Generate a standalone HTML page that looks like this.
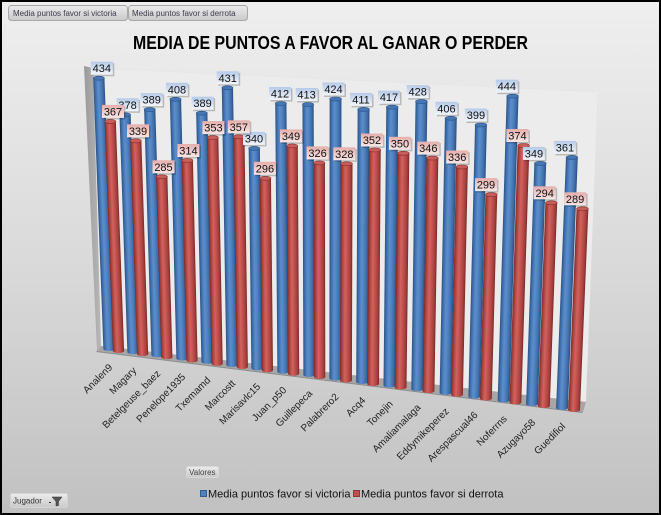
<!DOCTYPE html>
<html><head><meta charset="utf-8"><style>
html,body{margin:0;padding:0;background:#fff}
svg{display:block}
text{font-family:"Liberation Sans",Arial,sans-serif}
.B{fill:url(#gb)}.Bt{fill:#4676b3;stroke:#2c568c;stroke-width:.6}
.R{fill:url(#gr)}.Rt{fill:#c65e5b;stroke:#8c302d;stroke-width:.6}
.lb rect.s,.lr rect.s{fill:#000;opacity:.22}
.lb rect.f{fill:url(#lgb)}.lr rect.f{fill:url(#lgr)}
.lb text,.lr text{font-size:11px;fill:#111;text-anchor:middle}
.cat{font-size:10px;fill:#222;text-anchor:end}
</style></head><body>
<svg width="661" height="515" viewBox="0 0 661 515" xmlns="http://www.w3.org/2000/svg">
<defs>
<linearGradient id="bg" x1="0" y1="0" x2="0" y2="1"><stop offset="0" stop-color="#efefef"/><stop offset=".5" stop-color="#dadada"/><stop offset="1" stop-color="#c1c1c1"/></linearGradient>
<linearGradient id="gb" x1="0" y1="0" x2="1" y2="0"><stop offset="0" stop-color="#2a5182"/><stop offset=".15" stop-color="#3e6eab"/><stop offset=".4" stop-color="#5c8ecd"/><stop offset=".62" stop-color="#4f81bd"/><stop offset=".85" stop-color="#3b69a3"/><stop offset="1" stop-color="#284e7e"/></linearGradient>
<linearGradient id="gr" x1="0" y1="0" x2="1" y2="0"><stop offset="0" stop-color="#7c2a28"/><stop offset=".15" stop-color="#a7433f"/><stop offset=".4" stop-color="#d2625e"/><stop offset=".62" stop-color="#c0504d"/><stop offset=".85" stop-color="#a13f3c"/><stop offset="1" stop-color="#782826"/></linearGradient>
<linearGradient id="lgb" x1="0" y1="0" x2="0" y2="1"><stop offset="0" stop-color="#b5cae8"/><stop offset="1" stop-color="#f3f6fb"/></linearGradient>
<linearGradient id="lgr" x1="0" y1="0" x2="0" y2="1"><stop offset="0" stop-color="#e5aeac"/><stop offset="1" stop-color="#f8e6e5"/></linearGradient>
<linearGradient id="btn" x1="0" y1="0" x2="0" y2="1"><stop offset="0" stop-color="#ececec"/><stop offset="1" stop-color="#c9c9c9"/></linearGradient>
<linearGradient id="side" x1="0" y1="0" x2="1" y2="0"><stop offset="0" stop-color="#9a9a9a"/><stop offset="1" stop-color="#b8b8b8"/></linearGradient>
</defs>
<rect x="0" y="0" width="661" height="515" fill="url(#bg)"/>
<!-- top filter buttons -->
<rect x="8.5" y="5.5" width="119" height="15" rx="3" fill="url(#btn)" stroke="#a9a9a9"/>
<text x="13" y="16" font-size="8" fill="#3c3c50">Media puntos favor si victoria</text>
<rect x="128.5" y="5.5" width="119" height="15" rx="3" fill="url(#btn)" stroke="#a9a9a9"/>
<text x="132" y="16" font-size="8" fill="#3c3c50">Media puntos favor si derrota</text>
<!-- title -->
<text x="330.5" y="49" font-size="18" font-weight="bold" fill="#000" text-anchor="middle" textLength="395" lengthAdjust="spacingAndGlyphs">MEDIA DE PUNTOS A FAVOR AL GANAR O PERDER</text>
<!-- walls & floor -->
<polygon points="93,68 598,92 586,402 101,346" fill="#ececec" stroke="#d4d4d4" stroke-width=".6" stroke-dasharray="1,3"/>
<polygon points="84,66 93,68 101,346 97,351" fill="url(#side)"/>
<polygon points="101,346 586,402 583,412 97,351" fill="#a6a6a6"/>
<polygon points="97,351 583,412 582,413 96,352" fill="#8d8d8d"/>
<!-- bars -->
<g transform="translate(109,349) skewX(2.15)"><rect class="B" x="-5.6" y="-270.8" width="11.2" height="270.8"/><ellipse class="B" rx="5.6" ry="2"/><ellipse class="Bt" cy="-270.8" rx="5.6" ry="2"/></g>
<g transform="translate(118.5,351) skewX(2.06)"><rect class="R" x="-5.6" y="-229.6" width="11.2" height="229.6"/><ellipse class="R" rx="5.6" ry="2"/><ellipse class="Rt" cy="-229.6" rx="5.6" ry="2"/></g>
<g transform="translate(133,352.1) skewX(1.92)"><rect class="B" x="-5.6" y="-237.3" width="11.2" height="237.3"/><ellipse class="B" rx="5.6" ry="2"/><ellipse class="Bt" cy="-237.3" rx="5.6" ry="2"/></g>
<g transform="translate(142.6,354.1) skewX(1.83)"><rect class="R" x="-5.6" y="-213.3" width="11.2" height="213.3"/><ellipse class="R" rx="5.6" ry="2"/><ellipse class="Rt" cy="-213.3" rx="5.6" ry="2"/></g>
<g transform="translate(157,355.2) skewX(1.69)"><rect class="B" x="-5.6" y="-245.6" width="11.2" height="245.6"/><ellipse class="B" rx="5.6" ry="2"/><ellipse class="Bt" cy="-245.6" rx="5.6" ry="2"/></g>
<g transform="translate(166.8,357.2) skewX(1.59)"><rect class="R" x="-5.6" y="-180.4" width="11.2" height="180.4"/><ellipse class="R" rx="5.6" ry="2"/><ellipse class="Rt" cy="-180.4" rx="5.6" ry="2"/></g>
<g transform="translate(182,358.5) skewX(1.44)"><rect class="B" x="-5.6" y="-259.2" width="11.2" height="259.2"/><ellipse class="B" rx="5.6" ry="2"/><ellipse class="Bt" cy="-259.2" rx="5.6" ry="2"/></g>
<g transform="translate(192,360.5) skewX(1.34)"><rect class="R" x="-5.6" y="-200" width="11.2" height="200"/><ellipse class="R" rx="5.6" ry="2"/><ellipse class="Rt" cy="-200" rx="5.6" ry="2"/></g>
<g transform="translate(207,361.8) skewX(1.20)"><rect class="B" x="-5.6" y="-248.6" width="11.2" height="248.6"/><ellipse class="B" rx="5.6" ry="2"/><ellipse class="Bt" cy="-248.6" rx="5.6" ry="2"/></g>
<g transform="translate(217.1,363.8) skewX(1.10)"><rect class="R" x="-5.6" y="-226.2" width="11.2" height="226.2"/><ellipse class="R" rx="5.6" ry="2"/><ellipse class="Rt" cy="-226.2" rx="5.6" ry="2"/></g>
<g transform="translate(232,365) skewX(0.95)"><rect class="B" x="-5.6" y="-277.2" width="11.2" height="277.2"/><ellipse class="B" rx="5.6" ry="2"/><ellipse class="Bt" cy="-277.2" rx="5.6" ry="2"/></g>
<g transform="translate(242.3,367) skewX(0.85)"><rect class="R" x="-5.6" y="-230.2" width="11.2" height="230.2"/><ellipse class="R" rx="5.6" ry="2"/><ellipse class="Rt" cy="-230.2" rx="5.6" ry="2"/></g>
<g transform="translate(257,368.3) skewX(0.71)"><rect class="B" x="-5.6" y="-219.9" width="11.2" height="219.9"/><ellipse class="B" rx="5.6" ry="2"/><ellipse class="Bt" cy="-219.9" rx="5.6" ry="2"/></g>
<g transform="translate(267.4,370.3) skewX(0.61)"><rect class="R" x="-5.6" y="-192" width="11.2" height="192"/><ellipse class="R" rx="5.6" ry="2"/><ellipse class="Rt" cy="-192" rx="5.6" ry="2"/></g>
<g transform="translate(283,371.7) skewX(0.46)"><rect class="B" x="-5.6" y="-268.2" width="11.2" height="268.2"/><ellipse class="B" rx="5.6" ry="2"/><ellipse class="Bt" cy="-268.2" rx="5.6" ry="2"/></g>
<g transform="translate(293.6,373.7) skewX(0.36)"><rect class="R" x="-5.6" y="-227.8" width="11.2" height="227.8"/><ellipse class="R" rx="5.6" ry="2"/><ellipse class="Rt" cy="-227.8" rx="5.6" ry="2"/></g>
<g transform="translate(309,375) skewX(0.20)"><rect class="B" x="-5.6" y="-270.5" width="11.2" height="270.5"/><ellipse class="B" rx="5.6" ry="2"/><ellipse class="Bt" cy="-270.5" rx="5.6" ry="2"/></g>
<g transform="translate(319.7,377) skewX(0.10)"><rect class="R" x="-5.6" y="-214.1" width="11.2" height="214.1"/><ellipse class="R" rx="5.6" ry="2"/><ellipse class="Rt" cy="-214.1" rx="5.6" ry="2"/></g>
<g transform="translate(335.3,378.5) skewX(-0.05)"><rect class="B" x="-5.9" y="-279.5" width="11.8" height="279.5"/><ellipse class="B" rx="5.9" ry="2"/><ellipse class="Bt" cy="-279.5" rx="5.9" ry="2"/></g>
<g transform="translate(346,380.5) skewX(-0.16)"><rect class="R" x="-5.9" y="-216.7" width="11.8" height="216.7"/><ellipse class="R" rx="5.9" ry="2"/><ellipse class="Rt" cy="-216.7" rx="5.9" ry="2"/></g>
<g transform="translate(362.1,382) skewX(-0.31)"><rect class="B" x="-5.9" y="-272.6" width="11.8" height="272.6"/><ellipse class="B" rx="5.9" ry="2"/><ellipse class="Bt" cy="-272.6" rx="5.9" ry="2"/></g>
<g transform="translate(373.1,384) skewX(-0.42)"><rect class="R" x="-5.9" y="-234" width="11.8" height="234"/><ellipse class="R" rx="5.9" ry="2"/><ellipse class="Rt" cy="-234" rx="5.9" ry="2"/></g>
<g transform="translate(389.4,385.5) skewX(-0.58)"><rect class="B" x="-5.9" y="-278.3" width="11.8" height="278.3"/><ellipse class="B" rx="5.9" ry="2"/><ellipse class="Bt" cy="-278.3" rx="5.9" ry="2"/></g>
<g transform="translate(400.6,387.5) skewX(-0.69)"><rect class="R" x="-5.9" y="-234.2" width="11.8" height="234.2"/><ellipse class="R" rx="5.9" ry="2"/><ellipse class="Rt" cy="-234.2" rx="5.9" ry="2"/></g>
<g transform="translate(417.2,389.1) skewX(-0.85)"><rect class="B" x="-5.9" y="-287.5" width="11.8" height="287.5"/><ellipse class="B" rx="5.9" ry="2"/><ellipse class="Bt" cy="-287.5" rx="5.9" ry="2"/></g>
<g transform="translate(428.5,391.1) skewX(-0.96)"><rect class="R" x="-5.9" y="-233" width="11.8" height="233"/><ellipse class="R" rx="5.9" ry="2"/><ellipse class="Rt" cy="-233" rx="5.9" ry="2"/></g>
<g transform="translate(445.5,392.8) skewX(-1.12)"><rect class="B" x="-5.9" y="-274.5" width="11.8" height="274.5"/><ellipse class="B" rx="5.9" ry="2"/><ellipse class="Bt" cy="-274.5" rx="5.9" ry="2"/></g>
<g transform="translate(457,394.8) skewX(-1.24)"><rect class="R" x="-5.9" y="-227.8" width="11.8" height="227.8"/><ellipse class="R" rx="5.9" ry="2"/><ellipse class="Rt" cy="-227.8" rx="5.9" ry="2"/></g>
<g transform="translate(474.3,396.6) skewX(-1.40)"><rect class="B" x="-5.9" y="-271.6" width="11.8" height="271.6"/><ellipse class="B" rx="5.9" ry="2"/><ellipse class="Bt" cy="-271.6" rx="5.9" ry="2"/></g>
<g transform="translate(485.9,398.6) skewX(-1.52)"><rect class="R" x="-5.9" y="-204" width="11.8" height="204"/><ellipse class="R" rx="5.9" ry="2"/><ellipse class="Rt" cy="-204" rx="5.9" ry="2"/></g>
<g transform="translate(503.6,400.4) skewX(-1.69)"><rect class="B" x="-5.9" y="-304.2" width="11.8" height="304.2"/><ellipse class="B" rx="5.9" ry="2"/><ellipse class="Bt" cy="-304.2" rx="5.9" ry="2"/></g>
<g transform="translate(515.4,402.4) skewX(-1.81)"><rect class="R" x="-5.9" y="-256.9" width="11.8" height="256.9"/><ellipse class="R" rx="5.9" ry="2"/><ellipse class="Rt" cy="-256.9" rx="5.9" ry="2"/></g>
<g transform="translate(532,404.1) skewX(-1.97)"><rect class="B" x="-5.9" y="-240.7" width="11.8" height="240.7"/><ellipse class="B" rx="5.9" ry="2"/><ellipse class="Bt" cy="-240.7" rx="5.9" ry="2"/></g>
<g transform="translate(543.9,406.1) skewX(-2.08)"><rect class="R" x="-5.9" y="-203.3" width="11.8" height="203.3"/><ellipse class="R" rx="5.9" ry="2"/><ellipse class="Rt" cy="-203.3" rx="5.9" ry="2"/></g>
<g transform="translate(562,408) skewX(-2.26)"><rect class="B" x="-5.9" y="-250.6" width="11.8" height="250.6"/><ellipse class="B" rx="5.9" ry="2"/><ellipse class="Bt" cy="-250.6" rx="5.9" ry="2"/></g>
<g transform="translate(574.1,410) skewX(-2.38)"><rect class="R" x="-5.9" y="-201.2" width="11.8" height="201.2"/><ellipse class="R" rx="5.9" ry="2"/><ellipse class="Rt" cy="-201.2" rx="5.9" ry="2"/></g>
<!-- blue labels -->
<g class="lb">
<rect class="s" x="92.3" y="63.2" width="22" height="13"/><rect class="f" x="90.8" y="61.7" width="22" height="13"/><text x="101.8" y="72.2">434</text>
<rect class="s" x="118.1" y="99.8" width="22" height="13"/><rect class="f" x="116.6" y="98.3" width="22" height="13"/><text x="127.6" y="108.8">378</text>
<rect class="s" x="142.2" y="94.6" width="22" height="13"/><rect class="f" x="140.7" y="93.1" width="22" height="13"/><text x="151.7" y="103.6">389</text>
<rect class="s" x="167.4" y="84.3" width="22" height="13"/><rect class="f" x="165.9" y="82.8" width="22" height="13"/><text x="176.9" y="93.3">408</text>
<rect class="s" x="193.1" y="98.2" width="22" height="13"/><rect class="f" x="191.6" y="96.7" width="22" height="13"/><text x="202.6" y="107.2">389</text>
<rect class="s" x="218.2" y="72.8" width="22" height="13"/><rect class="f" x="216.7" y="71.3" width="22" height="13"/><text x="227.7" y="81.8">431</text>
<rect class="s" x="244.5" y="133.4" width="22" height="13"/><rect class="f" x="243" y="131.9" width="22" height="13"/><text x="254" y="142.4">340</text>
<rect class="s" x="270.5" y="88.5" width="22" height="13"/><rect class="f" x="269" y="87" width="22" height="13"/><text x="280" y="97.5">412</text>
<rect class="s" x="297.1" y="89.5" width="22" height="13"/><rect class="f" x="295.6" y="88" width="22" height="13"/><text x="306.6" y="98.5">413</text>
<rect class="s" x="324" y="84" width="22" height="13"/><rect class="f" x="322.5" y="82.5" width="22" height="13"/><text x="333.5" y="93">424</text>
<rect class="s" x="351.5" y="94.4" width="22" height="13"/><rect class="f" x="350" y="92.9" width="22" height="13"/><text x="361" y="103.4">411</text>
<rect class="s" x="379.5" y="92.2" width="22" height="13"/><rect class="f" x="378" y="90.7" width="22" height="13"/><text x="389" y="101.2">417</text>
<rect class="s" x="408.2" y="86.6" width="22" height="13"/><rect class="f" x="406.7" y="85.1" width="22" height="13"/><text x="417.7" y="95.6">428</text>
<rect class="s" x="436.9" y="103.3" width="22" height="13"/><rect class="f" x="435.4" y="101.8" width="22" height="13"/><text x="446.4" y="112.3">406</text>
<rect class="s" x="466.4" y="110" width="22" height="13"/><rect class="f" x="464.9" y="108.5" width="22" height="13"/><text x="475.9" y="119">399</text>
<rect class="s" x="497.3" y="81.2" width="22" height="13"/><rect class="f" x="495.8" y="79.7" width="22" height="13"/><text x="506.8" y="90.2">444</text>
<rect class="s" x="524.4" y="148.4" width="22" height="13"/><rect class="f" x="522.9" y="146.9" width="22" height="13"/><text x="533.9" y="157.4">349</text>
<rect class="s" x="555.4" y="142.4" width="22" height="13"/><rect class="f" x="553.9" y="140.9" width="22" height="13"/><text x="564.9" y="151.4">361</text>
</g>
<!-- red labels -->
<g class="lr">
<rect class="s" x="103.5" y="106.4" width="22" height="13"/><rect class="f" x="102" y="104.9" width="22" height="13"/><text x="113" y="115.4">367</text>
<rect class="s" x="128.5" y="125.8" width="22" height="13"/><rect class="f" x="127" y="124.3" width="22" height="13"/><text x="138" y="134.8">339</text>
<rect class="s" x="154" y="161.8" width="22" height="13"/><rect class="f" x="152.5" y="160.3" width="22" height="13"/><text x="163.5" y="170.8">285</text>
<rect class="s" x="178.9" y="145.5" width="22" height="13"/><rect class="f" x="177.4" y="144" width="22" height="13"/><text x="188.4" y="154.5">314</text>
<rect class="s" x="203.9" y="122.6" width="22" height="13"/><rect class="f" x="202.4" y="121.1" width="22" height="13"/><text x="213.4" y="131.6">353</text>
<rect class="s" x="229.3" y="121.8" width="22" height="13"/><rect class="f" x="227.8" y="120.3" width="22" height="13"/><text x="238.8" y="130.8">357</text>
<rect class="s" x="255.4" y="163.3" width="22" height="13"/><rect class="f" x="253.9" y="161.8" width="22" height="13"/><text x="264.9" y="172.3">296</text>
<rect class="s" x="281.5" y="130.9" width="22" height="13"/><rect class="f" x="280" y="129.4" width="22" height="13"/><text x="291" y="139.9">349</text>
<rect class="s" x="308.1" y="147.9" width="22" height="13"/><rect class="f" x="306.6" y="146.4" width="22" height="13"/><text x="317.6" y="156.9">326</text>
<rect class="s" x="334.8" y="148.8" width="22" height="13"/><rect class="f" x="333.3" y="147.3" width="22" height="13"/><text x="344.3" y="157.8">328</text>
<rect class="s" x="362.5" y="135" width="22" height="13"/><rect class="f" x="361" y="133.5" width="22" height="13"/><text x="372" y="144">352</text>
<rect class="s" x="390.4" y="138.3" width="22" height="13"/><rect class="f" x="388.9" y="136.8" width="22" height="13"/><text x="399.9" y="147.3">350</text>
<rect class="s" x="418.8" y="143.1" width="22" height="13"/><rect class="f" x="417.3" y="141.6" width="22" height="13"/><text x="428.3" y="152.1">346</text>
<rect class="s" x="447.7" y="152" width="22" height="13"/><rect class="f" x="446.2" y="150.5" width="22" height="13"/><text x="457.2" y="161">336</text>
<rect class="s" x="476.5" y="179.6" width="22" height="13"/><rect class="f" x="475" y="178.1" width="22" height="13"/><text x="486" y="188.6">299</text>
<rect class="s" x="507.9" y="130.5" width="22" height="13"/><rect class="f" x="506.4" y="129" width="22" height="13"/><text x="517.4" y="139.5">374</text>
<rect class="s" x="535.2" y="187.8" width="22" height="13"/><rect class="f" x="533.7" y="186.3" width="22" height="13"/><text x="544.7" y="196.8">294</text>
<rect class="s" x="565.6" y="193.8" width="22" height="13"/><rect class="f" x="564.1" y="192.3" width="22" height="13"/><text x="575.1" y="202.8">289</text>
</g>
<!-- category labels -->
<g class="cat">
<text transform="translate(113,368) rotate(-45)">Analen9</text>
<text transform="translate(137,371.1) rotate(-45)">Magary</text>
<text transform="translate(161,374.2) rotate(-45)">Betelgeuse_baez</text>
<text transform="translate(186,377.5) rotate(-45)">Penelope1935</text>
<text transform="translate(211,380.8) rotate(-45)">Txemamd</text>
<text transform="translate(236,384) rotate(-45)">Marcostt</text>
<text transform="translate(261,387.3) rotate(-45)">Marisavlc15</text>
<text transform="translate(287,390.7) rotate(-45)">Juan_p50</text>
<text transform="translate(313,394) rotate(-45)">Guillepeca</text>
<text transform="translate(339.3,397.5) rotate(-45)">Palabrero2</text>
<text transform="translate(366.1,401) rotate(-45)">Acq4</text>
<text transform="translate(393.4,404.5) rotate(-45)">Tonejin</text>
<text transform="translate(421.2,408.1) rotate(-45)">Amaliamalaga</text>
<text transform="translate(449.5,411.8) rotate(-45)">Eddymikeperez</text>
<text transform="translate(478.3,415.6) rotate(-45)">Arespascual46</text>
<text transform="translate(507.6,419.4) rotate(-45)">Noferrns</text>
<text transform="translate(536,423.1) rotate(-45)">Azugayo58</text>
<text transform="translate(566,427) rotate(-45)">Guedifiol</text>
</g>
<!-- Valores button -->
<rect x="186.5" y="466.5" width="32" height="11" rx="2" fill="url(#btn)" stroke="#d8d8d8"/>
<text x="189" y="475" font-size="8" fill="#444">Valores</text>
<!-- legend -->
<rect x="200.5" y="490.5" width="6" height="6" fill="#4f81bd" stroke="#385d8a"/>
<text x="208" y="497.5" font-size="11" fill="#111">Media puntos favor si victoria</text>
<rect x="353.5" y="490.5" width="6" height="6" fill="#c0504d" stroke="#8c3836"/>
<text x="361" y="497.5" font-size="11" fill="#111">Media puntos favor si derrota</text>
<!-- Jugador button -->
<rect x="10.5" y="493.5" width="57" height="14" rx="2" fill="url(#btn)" stroke="#d4d4d4"/>
<text x="13" y="503.5" font-size="8" fill="#333">Jugador</text>
<rect x="49" y="502" width="2" height="1" fill="#333"/>
<polygon points="52,497 62,497 58.5,501.5 58.5,505.5 56,506 56,501.5" fill="#555" stroke="#333" stroke-width=".5"/>
<!-- border -->
<rect x="1" y="1" width="659" height="513" fill="none" stroke="#000" stroke-width="2"/>
</svg>
</body></html>
